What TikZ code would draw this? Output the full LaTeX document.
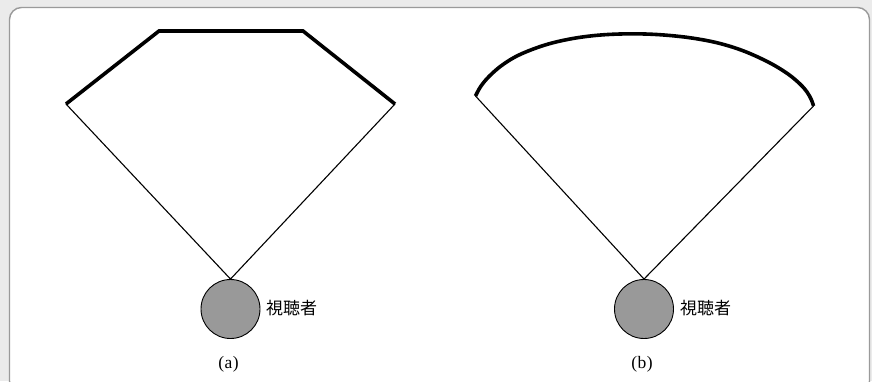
\documentclass[tikz,border=0pt]{standalone}
\usepackage{fontspec}
\newfontfamily\cjk{Noto Sans CJK JP}
\setmainfont{Liberation Serif}
\definecolor{bgc}{HTML}{EBEBEB}
\definecolor{framec}{HTML}{9A9A9A}
\definecolor{viewerfill}{HTML}{999999}
\begin{document}
\begin{tikzpicture}[x=1pt,y=-1pt,
  thickedge/.style={line width=3.6pt, line join=miter, line cap=butt},
  ray/.style={line width=1.1pt},
  viewer/.style={circle, draw=black, line width=0.9pt, fill=viewerfill, minimum size=59pt, inner sep=0pt},
  viewerlabel/.style={anchor=west, font=\cjk\fontsize{17}{19}\selectfont, inner sep=0pt},
  caption/.style={font=\fontsize{17.5}{19}\selectfont, inner sep=0pt}]
\useasboundingbox (0,0) rectangle (872,381);
\clip (0,0) rectangle (872,381);
\fill[bgc] (0,0) rectangle (872,381);
\draw[framec, line width=1.4pt, fill=white, rounded corners=12pt] (9.5,7.5) rectangle (869.5,393);
% (a)
\node[viewer] (va) at (230.5,309) {};
\node[viewerlabel] (la) at (266,308.5) {視聴者};
\coordinate (a1) at (66,104);
\coordinate (a2) at (159,31);
\coordinate (a3) at (303,31);
\coordinate (a4) at (395,104);
\draw[ray] (a1) -- (va.north) -- (a4);
\draw[thickedge] (a1) -- (a2) -- (a3) -- (a4);
\node[caption] (ca) at (228.5,364.5) {(\hspace{0.5pt}a\hspace{0.5pt})};
% (b)
\node[viewer] (vb) at (644,309) {};
\node[viewerlabel] (lb) at (680,308.5) {視聴者};
\coordinate (b1) at (475.5,96);
\coordinate (b4) at (813.5,106);
\draw[ray] (b1) -- (vb.north) -- (b4);
\draw[thickedge] plot[smooth, tension=0.6] coordinates {(475.5,96) (481,86) (490,75.5) (503,64.5) (520,54.5) (545,45) (570,39) (595,35.5) (620,34) (645,34) (670,35.5) (695,38.5) (720,43.5) (745,51.5) (770,63) (788,74) (800,84) (807,92) (811.5,100) (813.5,106)};
\node[caption] (cb) at (642,364.5) {(\hspace{0.5pt}b\hspace{0.5pt})};
\end{tikzpicture}
\end{document}
